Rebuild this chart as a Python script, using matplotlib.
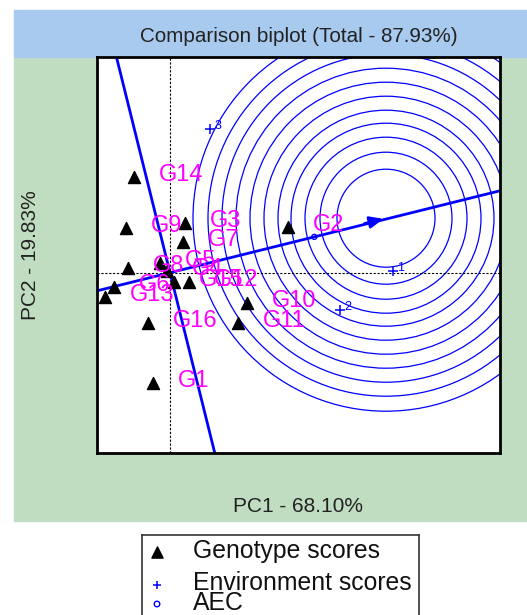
import numpy as np
import matplotlib
matplotlib.use("Agg")
import matplotlib.pyplot as plt
from matplotlib.patches import Rectangle, Circle

plt.rcParams['font.family'] = ['Liberation Sans', 'DejaVu Sans']

# puntajes de genotipos (PC1, PC2)
genotipos = ['G1', 'G2', 'G3', 'G4', 'G5', 'G6', 'G7', 'G8', 'G9', 'G10',
             'G11', 'G12', 'G13', 'G14', 'G15', 'G16']
gen_pc1 = [-0.34, 2.36, 0.30, -0.06, -0.20, -1.12, 0.26, -0.84, -0.88, 1.54,
           1.36, 0.38, -1.30, -0.72, 0.08, -0.44]
gen_pc2 = [-2.21, 0.91, 0.99, 0.03, 0.19, -0.29, 0.61, 0.09, 0.89, -0.61,
           -1.01, -0.19, -0.49, 1.91, -0.19, -1.01]

# puntajes de ambientes
ambientes = ['1', '2', '3']
amb_pc1 = [4.46, 3.40, 0.80]
amb_pc2 = [0.03, -0.75, 2.87]

# genotipo ideal y radios de los circulos
ideal = [4.32, 1.09]
radios = [0.98, 1.32, 1.62, 1.90, 2.16, 2.44, 2.72, 3.00, 3.28, 3.56, 3.86]

titulo = 'Comparison biplot (Total - 87.93%)'
etiqueta_x = 'PC1 - 68.10%'
etiqueta_y = 'PC2 - 19.83%'

W, H = 527, 615
fig = plt.figure(figsize=(W / 100, H / 100), dpi=100)

def fx(px):
    return px / W

def fy(py):
    return 1 - py / H

# fondos
fig.patches.append(Rectangle((fx(14), fy(521)), fx(527) - fx(14), fy(57) - fy(521),
                             transform=fig.transFigure, color='#c1ddc1', zorder=-10))
fig.patches.append(Rectangle((fx(14), fy(57)), fx(527) - fx(14), fy(9.5) - fy(57),
                             transform=fig.transFigure, color='#a8caee', zorder=-10))

ax = fig.add_axes([fx(97), fy(453), fx(500) - fx(97), fy(57) - fy(453)])
ax.set_facecolor('white')
ax.set_xlim(-1.46, 6.6)
ax.set_ylim(-3.606, 4.314)
ax.set_xticks([])
ax.set_yticks([])
for s in ax.spines.values():
    s.set_linewidth(2)
    s.set_color('black')

# ejes de referencia
ax.axhline(0, color='black', ls=(0, (2, 1.5)), lw=0.8)
ax.axvline(0, color='black', ls=(0, (2, 1.5)), lw=0.8)

# AEC
aec = np.array([np.mean(amb_pc1), np.mean(amb_pc2)])
d = aec / np.linalg.norm(aec)
t = np.array([-30, 30])
ax.plot(t * d[0], t * d[1], color='#0000ff', lw=2)
ax.plot(-t * d[1], t * d[0], color='#0000ff', lw=2)
ax.annotate('', xy=ideal, xytext=(ideal[0] - 0.5 * d[0], ideal[1] - 0.5 * d[1]),
            arrowprops=dict(arrowstyle='-|>,head_length=0.8,head_width=0.35',
                            color='#0000ff', lw=2))

for r in radios:
    ax.add_patch(Circle(ideal, r, fill=False, ec='#0000ff', lw=0.9))

ax.scatter([aec[0]], [aec[1]], marker='o', s=14, facecolors='none',
           edgecolors='#0000ff', lw=0.9, zorder=4)

# ambientes
ax.scatter(amb_pc1, amb_pc2, marker='+', s=45, color='#0000ff', lw=1.1, zorder=4)
for nombre, x, y in zip(ambientes, amb_pc1, amb_pc2):
    ax.annotate(nombre, (x, y), xytext=(3, 2.5), textcoords='offset points',
                color='#0000ff', fontsize=9, ha='left', va='center')

# genotipos
ax.scatter(gen_pc1, gen_pc2, marker='^', s=75, color='black', zorder=5)
for nombre, x, y in zip(genotipos, gen_pc1, gen_pc2):
    ax.annotate(nombre, (x, y), xytext=(18, 1.5), textcoords='offset points',
                color='#ff00ff', fontsize=17, ha='left', va='center', zorder=6)

# textos
fig.text(fx(299), fy(37), titulo, ha='center', va='center', fontsize=14.9, color='#222222')
fig.text(fx(298), fy(507), etiqueta_x, ha='center', va='center', fontsize=15, color='#222222')
fig.text(fx(31), fy(255), etiqueta_y, ha='center', va='center', fontsize=15,
         color='#222222', rotation=90)

# leyenda
leg = fig.add_axes([fx(142), fy(622), fx(419) - fx(142), fy(535) - fy(622)])
leg.set_xlim(142, 419)
leg.set_ylim(622, 535)
leg.set_xticks([])
leg.set_yticks([])
for s in leg.spines.values():
    s.set_linewidth(1.2)
    s.set_color('#333333')
leg.scatter([157], [552], marker='^', s=65, color='black')
leg.scatter([157], [585], marker='+', s=40, color='#0000ff', lw=1.1)
leg.scatter([157], [604], marker='o', s=16, facecolors='none', edgecolors='#0000ff', lw=1)
leg.text(193, 551, 'Genotype scores', fontsize=17.8, va='center', ha='left', color='#111111')
leg.text(193, 583, 'Environment scores', fontsize=17.8, va='center', ha='left', color='#111111')
leg.text(193, 603, 'AEC', fontsize=17.8, va='center', ha='left', color='#111111')

fig.savefig('out.png', dpi=100)
